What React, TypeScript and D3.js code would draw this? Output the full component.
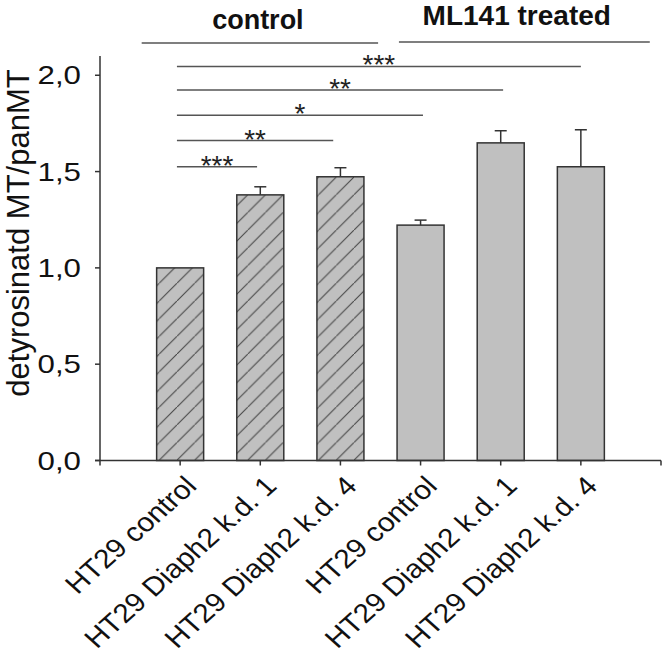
import React from 'react';
import * as d3 from 'd3';

const categories = [
  'HT29 control',
  'HT29 Diaph2 k.d. 1',
  'HT29 Diaph2 k.d. 4',
  'HT29 control',
  'HT29 Diaph2 k.d. 1',
  'HT29 Diaph2 k.d. 4',
];
const values = [1.0, 1.379, 1.473, 1.222, 1.649, 1.525];
const errors = [0, 0.042, 0.047, 0.026, 0.063, 0.192];
const hatched = [true, true, true, false, false, false];
const yTicks = [0, 0.5, 1.0, 1.5, 2.0];
const yTickLabels = ['0,0', '0,5', '1,0', '1,5', '2,0'];
const yLabel = 'detyrosinatd MT/panMT';

const groupLabels = ['control', 'ML141 treated'];
const groupStart = [0.52, 3.73];
const groupEnd = [3.47, 6.86];
const groupCenter = [1.97, 5.2];

const sigLabels = ['***', '**', '*', '**', '***'];
const sigFrom = 0.96;
const sigTo = [6.0, 5.03, 4.03, 2.91, 1.96];
const sigLevel = [2.046, 1.923, 1.793, 1.661, 1.525];

const W = 662;
const H = 657;
const FONT = 'Liberation Sans, Arial, sans-serif';
const INK = '#333333';

export default function App() {
  const x = d3.scaleLinear().domain([0, 7]).range([100, 661]);
  const y = d3.scaleLinear().domain([0, 2.1]).range([460.5, 56]);
  const bw = 47;
  const xTicks = d3.range(0, 8);

  return (
    <svg width={W} height={H} style={{ position: 'absolute', left: 0, top: 0, background: '#fff' }}>
      <defs>
        <pattern id="hatch" patternUnits="userSpaceOnUse" width={17.7} height={17.7}>
          <rect width={17.7} height={17.7} fill="#c0c0c0" />
          <line x1={-1} y1={18.7} x2={18.7} y2={-1} stroke="#444" strokeWidth={1} />
        </pattern>
      </defs>

      {/* group headers */}
      {groupLabels.map((g, i) => (
        <g key={g}>
          <text x={x(groupCenter[i])} y={i === 0 ? 29 : 25} textAnchor="middle"
            fontFamily={FONT} fontWeight="bold" fontSize={i === 0 ? 27 : 28} fill="#111">{g}</text>
          <line x1={x(groupStart[i])} x2={x(groupEnd[i])} y1={i === 0 ? 43 : 42} y2={i === 0 ? 43 : 42}
            stroke="#555" strokeWidth={1.5} />
        </g>
      ))}

      {/* bars */}
      {values.map((v, i) => {
        const cx = x(i + 1);
        return (
          <g key={i}>
            <rect x={cx - bw / 2} y={y(v)} width={bw} height={y(0) - y(v)}
              fill={hatched[i] ? 'url(#hatch)' : '#c0c0c0'} stroke={INK} strokeWidth={1.5} />
            {errors[i] > 0 && (
              <g stroke={INK} strokeWidth={1.5}>
                <line x1={cx} x2={cx} y1={y(v)} y2={y(v + errors[i])} />
                <line x1={cx - 6} x2={cx + 6} y1={y(v + errors[i])} y2={y(v + errors[i])} />
              </g>
            )}
          </g>
        );
      })}

      {/* significance */}
      {sigLabels.map((s, i) => (
        <g key={i}>
          <line x1={x(sigFrom)} x2={x(sigTo[i])} y1={y(sigLevel[i])} y2={y(sigLevel[i])} stroke="#555" strokeWidth={1.5} />
          <text x={(x(sigFrom) + x(sigTo[i])) / 2} y={y(sigLevel[i]) + 8} textAnchor="middle"
            fontFamily={FONT} fontSize={28} fill="#222">{s}</text>
        </g>
      ))}

      {/* y axis */}
      <line x1={100} x2={100} y1={y(2.1)} y2={y(0)} stroke={INK} strokeWidth={1.5} />
      {yTicks.map((t, i) => (
        <g key={t}>
          <line x1={95} x2={100} y1={y(t)} y2={y(t)} stroke={INK} strokeWidth={1.5} />
          <text transform={`translate(81, ${y(t)}) scale(1.25, 1)`} dy="0.36em" textAnchor="end"
            fontFamily={FONT} fontSize={25} fill="#111">
            {yTickLabels[i]}
          </text>
        </g>
      ))}
      <text transform={`translate(29, 233) rotate(-90)`} textAnchor="middle" fontFamily={FONT} fontSize={31} fill="#111">
        {yLabel}
      </text>

      {/* x axis */}
      <line x1={95} x2={661} y1={y(0)} y2={y(0)} stroke={INK} strokeWidth={1.5} />
      {xTicks.map(t => (
        <line key={t} x1={x(t)} x2={x(t)} y1={y(0)} y2={y(0) + 5} stroke={INK} strokeWidth={1.5} />
      ))}
      {categories.map((c, i) => (
        <text key={i} transform={`translate(${x(i + 1) + 18}, ${y(0) + 27}) scale(1.12, 1) rotate(-45)`}
          textAnchor="end" fontFamily={FONT} fontSize={26.6} fill="#111">{c}</text>
      ))}
    </svg>
  );
}
